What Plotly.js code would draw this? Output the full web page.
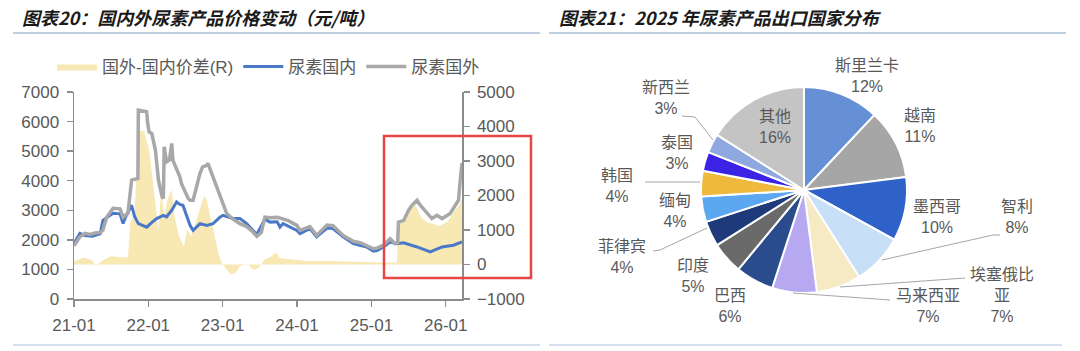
<!DOCTYPE html>
<html>
<head>
<meta charset="utf-8">
<script src="https://cdn.plot.ly/plotly-3.0.1.min.js"></script>
<style>
html,body{margin:0;padding:0;background:#fff;}
#chart{width:1080px;height:351px;}
</style>
</head>
<body>
<div id="chart"></div>
<script>
// ---------- Left chart data (元/吨) ----------
const foreignDates = ['2021-01-01','2021-01-15','2021-01-30','2021-02-24','2021-03-20','2021-04-15','2021-05-09','2021-05-23','2021-06-11','2021-07-12','2021-08-15','2021-08-30','2021-09-23','2021-10-11','2021-11-11','2021-11-13','2021-12-24','2021-12-28','2022-01-05','2022-01-18','2022-02-05','2022-02-20','2022-03-10','2022-03-16','2022-03-20','2022-04-01','2022-04-15','2022-04-26','2022-05-02','2022-06-05','2022-06-13','2022-07-16','2022-07-25','2022-08-09','2022-09-12','2022-09-25','2022-10-15','2022-10-21','2022-11-15','2022-12-10','2023-01-03','2023-01-21','2023-02-21','2023-03-27','2023-04-29','2023-05-25','2023-06-18','2023-07-10','2023-07-28','2023-08-22','2023-09-26','2023-10-25','2023-11-20','2024-01-01','2024-01-16','2024-03-05','2024-04-07','2024-05-28','2024-06-26','2024-08-15','2024-10-04','2024-11-10','2024-12-09','2025-01-11','2025-01-28','2025-03-01','2025-04-03','2025-04-28','2025-05-10','2025-05-14','2025-06-08','2025-07-02','2025-07-19','2025-08-13','2025-08-29','2025-10-01','2025-10-25','2025-11-19','2025-12-14','2026-01-23','2026-02-17','2026-03-05','2026-03-13','2026-03-22'];
const foreignPrice = [1800,1950,2100,2220,2180,2230,2250,2330,2770,3070,3050,2770,2900,4020,4080,6390,6330,5990,5650,5600,5030,4020,3450,3400,5150,4640,4700,5260,4690,4130,3900,3400,3340,3340,4250,4470,4520,4590,4130,3680,3300,2890,2700,2550,2450,2300,2120,2250,2770,2750,2760,2700,2650,2490,2320,2450,2150,2500,2480,2150,1950,1900,1800,1700,1720,1820,2040,1870,1900,2600,2650,3000,3170,3340,3170,2890,2720,2830,2720,2890,3170,3340,4000,4600];

const domesticDates = ['2021-01-01','2021-01-30','2021-02-24','2021-04-01','2021-05-09','2021-05-23','2021-07-12','2021-08-15','2021-08-30','2021-09-10','2021-10-11','2021-10-25','2021-11-13','2021-12-24','2022-01-20','2022-02-11','2022-03-16','2022-04-01','2022-04-26','2022-05-20','2022-06-05','2022-06-20','2022-07-25','2022-08-09','2022-09-12','2022-10-15','2022-11-15','2022-12-19','2023-01-03','2023-02-21','2023-03-27','2023-04-29','2023-06-18','2023-07-28','2023-08-22','2023-09-26','2023-10-10','2023-10-25','2024-01-01','2024-01-16','2024-03-05','2024-04-07','2024-05-28','2024-06-26','2024-08-15','2024-10-04','2024-12-09','2025-01-11','2025-01-28','2025-03-01','2025-04-03','2025-05-06','2025-06-08','2025-08-13','2025-10-17','2025-12-14','2026-02-08','2026-03-22'];
const domesticPrice = [1880,2220,2150,2120,2200,2660,2900,2880,2550,2750,3170,2800,2550,2430,2600,2720,2830,2780,3000,3280,3200,3170,2490,2320,2550,2490,2550,2770,2830,2720,2720,2550,2180,2700,2600,2610,2430,2550,2320,2210,2380,2100,2400,2380,2100,1870,1760,1620,1640,1760,1930,1870,1900,1760,1590,1760,1820,1930];

const spreadDates = ['2021-01-01','2021-01-20','2021-02-15','2021-03-10','2021-04-01','2021-04-20','2021-05-09','2021-06-01','2021-07-01','2021-08-15','2021-09-23','2021-10-05','2021-10-25','2021-11-13','2021-12-10','2022-01-05','2022-01-20','2022-02-05','2022-02-20','2022-03-05','2022-03-20','2022-04-05','2022-04-26','2022-05-10','2022-06-01','2022-06-25','2022-07-10','2022-08-01','2022-09-01','2022-10-01','2022-10-15','2022-11-01','2022-11-25','2022-12-15','2023-01-01','2023-01-20','2023-02-10','2023-03-05','2023-03-27','2023-05-01','2023-06-01','2023-06-25','2023-07-28','2023-08-20','2023-09-20','2023-10-10','2023-11-20','2024-01-10','2024-02-20','2024-06-01','2024-09-01','2024-12-01','2025-03-01','2025-05-06','2025-05-14','2025-06-08','2025-07-02','2025-08-01','2025-08-29','2025-10-01','2025-11-01','2025-12-01','2026-01-10','2026-02-08','2026-03-05','2026-03-22'];
const spreadValue = [100,130,200,150,120,-50,60,150,240,220,200,1250,1400,3900,3860,3330,2560,1600,1010,2170,1400,1880,2170,1400,820,530,1010,820,1400,1980,1880,1400,720,240,0,-150,-290,-250,-50,30,-150,-100,150,200,350,180,150,120,100,100,80,80,60,60,1200,1200,1600,1790,1400,1220,1180,1110,1250,1500,1690,1900];

const seriesNames = ['国外-国内价差(R)','尿素国内','尿素国外'];

// ---------- Right chart data ----------
const pieLabels = ['斯里兰卡','越南','墨西哥','智利','埃塞俄比亚','马来西亚','巴西','印度','菲律宾','缅甸','韩国','泰国','新西兰','其他'];
const pieValues = [12,11,10,8,7,7,6,5,4,4,4,3,3,16];
const pieColors = ['#6690d6','#a6a6a6','#2e62c8','#c7dff7','#f5eac4','#b6a9f2','#2b4c8c','#6a6a6a','#1e3a7a','#5ba7f0','#eeb93c','#3b23e6','#8fa9e0','#c4c4c4'];

// ---------- layout helpers ----------
const W = 1080, H = 351;
const px = x => x / W;
const py = y => 1 - y / H;
const TXT = '#595959';
const AX = '#8c8c8c';
const FONT = 'Liberation Sans, Arial, Noto Sans CJK SC, sans-serif';

const traces = [
  {x: spreadDates, y: spreadValue, name: seriesNames[0], type: 'scatter', mode: 'lines',
   fill: 'tozeroy', fillcolor: '#f7e8b4', line: {width: 0, color: '#f7e8b4'},
   xaxis: 'x', yaxis: 'y'},
  {x: domesticDates, y: domesticPrice, name: seriesNames[1], type: 'scatter', mode: 'lines',
   line: {color: '#4a78c8', width: 3}, xaxis: 'x', yaxis: 'y2'},
  {x: foreignDates, y: foreignPrice, name: seriesNames[2], type: 'scatter', mode: 'lines',
   line: {color: '#a8a8a8', width: 3.5}, xaxis: 'x', yaxis: 'y2'},
  {type: 'pie', labels: pieLabels, values: pieValues, sort: false, direction: 'clockwise', rotation: 0,
   marker: {colors: pieColors, line: {color: '#ffffff', width: 2}},
   textinfo: 'none', hoverinfo: 'none', showlegend: false,
   domain: {x: [px(804-103), px(804+103)], y: [py(190+103), py(190-103)]}}
];

// pie label placement (layout only)
const pieLabelPos = [[867,76],[920,126],[937,217],[1017,217],[1002,295],[928,306],[730,306],[693,276],[622,257],[675,211],[617,186],[677,153],[666,98],[775,127]];
const pieDisplay = pieLabels.map(l => l === '埃塞俄比亚' ? '埃塞俄比<br>亚' : l);

const annotations = [
  {text: '<b><i>图表20：国内外尿素产品价格变动（元/吨）</i></b>', x: px(20), y: py(17), xref: 'paper', yref: 'paper',
   xanchor: 'left', yanchor: 'middle', showarrow: false, font: {family: 'Noto Sans CJK SC, Liberation Sans', size: 18, color: '#1a1a1a'}},
  {text: '<b><i>图表21：2025 年尿素产品出口国家分布</i></b>', x: px(557), y: py(17), xref: 'paper', yref: 'paper',
   xanchor: 'left', yanchor: 'middle', showarrow: false, font: {family: 'Noto Sans CJK SC, Liberation Sans', size: 18, color: '#1a1a1a'}}
];
pieLabels.forEach((l, i) => {
  annotations.push({text: pieDisplay[i] + '<br>' + pieValues[i] + '%', x: px(pieLabelPos[i][0]), y: py(pieLabelPos[i][1]),
    xref: 'paper', yref: 'paper', xanchor: 'center', yanchor: 'middle', showarrow: false, align: 'center',
    font: {family: FONT, size: 16, color: TXT}});
});

const leader = (pts) => ({type: 'path', xref: 'paper', yref: 'paper',
  path: pts.map((p, i) => (i ? 'L' : 'M') + px(p[0]) + ',' + py(p[1])).join(' '),
  line: {color: '#a6a6a6', width: 1}});

const shapes = [
  {type: 'line', xref: 'paper', yref: 'paper', x0: px(13), x1: px(540), y0: py(33), y1: py(33), line: {color: '#aabfd8', width: 1.5}},
  {type: 'line', xref: 'paper', yref: 'paper', x0: px(549), x1: px(1066), y0: py(33), y1: py(33), line: {color: '#aabfd8', width: 1.5}},
  {type: 'line', xref: 'paper', yref: 'paper', x0: px(13), x1: px(540), y0: py(345), y1: py(345), line: {color: '#c6d6e8', width: 1.5}},
  {type: 'line', xref: 'paper', yref: 'paper', x0: px(549), x1: px(1062), y0: py(345), y1: py(345), line: {color: '#c6d6e8', width: 1.5}},
  {type: 'rect', xref: 'paper', yref: 'paper', x0: px(384), x1: px(531), y0: py(278), y1: py(136), line: {color: '#e84545', width: 2.5}},
  leader([[682,116],[695,117],[713,140]]),
  leader([[645,182],[700,182]]),
  leader([[653,251],[660,250],[707,228]]),
  leader([[1000,235],[993,235],[882,260]]),
  leader([[965,278],[840,287]]),
  leader([[793,293],[890,300]])
];

const axisCommon = {showgrid: false, zeroline: false, showline: true, linecolor: AX, linewidth: 1.5,
  ticks: 'outside', ticklen: 6, tickwidth: 1.5, tickcolor: AX, ticklabelstandoff: 4,
  tickfont: {family: FONT, size: 17, color: TXT}};

const layout = {
  width: W, height: H, autosize: false,
  margin: {l: 0, r: 0, t: 0, b: 0, pad: 0},
  paper_bgcolor: '#ffffff', plot_bgcolor: 'rgba(0,0,0,0)',
  font: {family: FONT, color: TXT},
  showlegend: true,
  legend: {orientation: 'h', x: px(52), y: py(67), xanchor: 'left', yanchor: 'middle',
    font: {family: FONT, size: 17, color: TXT}, bgcolor: 'rgba(0,0,0,0)', itemwidth: 40, traceorder: 'normal'},
  xaxis: Object.assign({}, axisCommon, {type: 'date', domain: [px(74), px(462)], anchor: 'y',
    range: ['2021-01-01', '2026-03-22'], tick0: '2021-01-01', dtick: 'M12', tickformat: '%y-%m'}),
  yaxis: Object.assign({}, axisCommon, {domain: [py(299), py(92)], side: 'right', anchor: 'x',
    range: [-1000, 5000], dtick: 1000}),
  yaxis2: Object.assign({}, axisCommon, {overlaying: 'y', side: 'left', anchor: 'x',
    range: [0, 7000], dtick: 1000}),
  annotations: annotations,
  shapes: shapes
};

Plotly.newPlot('chart', traces, layout, {displayModeBar: false, staticPlot: true});
</script>
</body>
</html>
